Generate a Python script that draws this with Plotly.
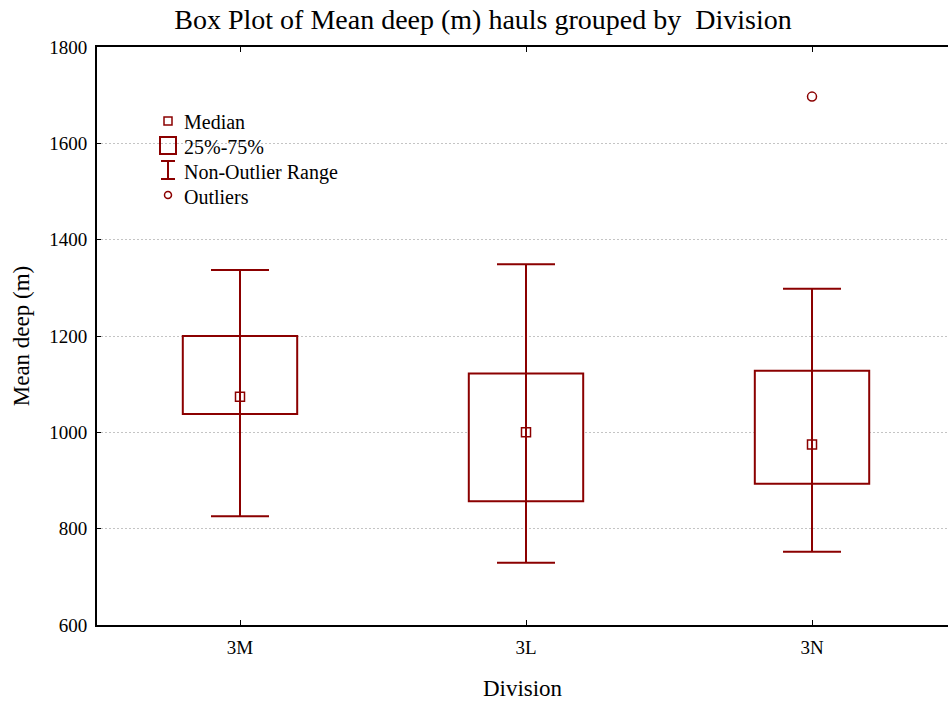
import plotly.graph_objects as go

divisions = ["3M", "3L", "3N"]
q1 = [1038, 857, 893]
median = [1074, 1000, 975]
q3 = [1200, 1122, 1128]
lower_whisker = [826, 729, 752]
upper_whisker = [1337, 1349, 1298]
outlier_x = ["3N"]
outlier_y = [1697]

RED = "#8B0000"
FONT = "Liberation Serif"

fig = go.Figure()

# whiskers (non-outlier range) via error bars centred on the median
fig.add_trace(go.Scatter(
    x=divisions, y=median, mode="markers",
    marker=dict(size=1, color="rgba(0,0,0,0)"),
    error_y=dict(type="data", symmetric=False,
                 array=[u - m for u, m in zip(upper_whisker, median)],
                 arrayminus=[m - l for m, l in zip(median, lower_whisker)],
                 color=RED, thickness=2, width=29),
    showlegend=False, hoverinfo="skip"))

# 25%-75% boxes
fig.add_trace(go.Bar(
    x=divisions, y=[b - a for a, b in zip(q1, q3)], base=q1, width=0.4,
    marker=dict(color="white", line=dict(color=RED, width=2)),
    showlegend=False))

# medians
fig.add_trace(go.Scatter(
    x=divisions, y=median, mode="markers",
    marker=dict(symbol="square-open", size=9, color=RED, line=dict(width=1.5)),
    showlegend=False))

# outliers
fig.add_trace(go.Scatter(
    x=outlier_x, y=outlier_y, mode="markers",
    marker=dict(symbol="circle-open", size=9, color=RED, line=dict(width=1.5)),
    showlegend=False))

L, R, T, B = 97, 948, 47, 625
def px(x):
    return (x - L) / (R - L)
def py(y):
    return (B - y) / (B - T)

shapes = [
    dict(type="rect", x0=px(164), x1=px(172), y0=py(125), y1=py(117)),
    dict(type="rect", x0=px(160), x1=px(176), y0=py(154), y1=py(137), line=dict(width=2)),
    dict(type="line", x0=px(168), x1=px(168), y0=py(179), y1=py(161), line=dict(width=2)),
    dict(type="line", x0=px(161), x1=px(175), y0=py(161), y1=py(161), line=dict(width=2)),
    dict(type="line", x0=px(161), x1=px(175), y0=py(179), y1=py(179), line=dict(width=2)),
    dict(type="circle", x0=px(164.5), x1=px(171.5), y0=py(198.5), y1=py(191.5)),
]
for s in shapes:
    s.setdefault("line", dict(width=1.5))
    s["line"]["color"] = RED
    s.update(xref="paper", yref="paper", layer="above")

legend_labels = ["Median", "25%-75%", "Non-Outlier Range", "Outliers"]
legend_y = [122, 147, 172, 197]
annotations = [dict(x=px(182), y=py(yy), xref="paper", yref="paper", text=t,
                    showarrow=False, xanchor="left", yanchor="middle",
                    font=dict(family=FONT, size=20, color="black"))
               for t, yy in zip(legend_labels, legend_y)]

fig.update_layout(
    width=948, height=702,
    margin=dict(l=L, r=948 - R, t=T, b=702 - B),
    paper_bgcolor="white", plot_bgcolor="white",
    font=dict(family=FONT, size=19, color="black"),
    title=dict(text="Box Plot of Mean deep (m) hauls grouped by  Division",
               x=483 / 948, xref="container", xanchor="center",
               y=1 - 19 / 702, yref="container", yanchor="middle",
               font=dict(family=FONT, size=28, color="black")),
    shapes=shapes, annotations=annotations,
    barmode="overlay", showlegend=False,
    xaxis=dict(range=[-0.5, 2.4755], showline=True, linecolor="black", linewidth=2,
               mirror="ticks", ticks="inside", ticklen=5, tickcolor="black",
               ticklabelstandoff=4,
               showgrid=False, zeroline=False,
               title=dict(text="Division", font=dict(family=FONT, size=23), standoff=23)),
    yaxis=dict(range=[600, 1800], tickvals=[600, 800, 1000, 1200, 1400, 1600, 1800],
               showline=True, linecolor="black", linewidth=2,
               ticks="inside", ticklen=4, tickcolor="black",
               ticklabelstandoff=4,
               showgrid=True, gridcolor="#c4c4c4", griddash="2px,2px", gridwidth=1,
               zeroline=False,
               title=dict(text="Mean deep (m)", font=dict(family=FONT, size=23), standoff=13)),
)

fig.write_html("out.html", config={"displayModeBar": False},
               post_script="document.body.style.margin='0';")
